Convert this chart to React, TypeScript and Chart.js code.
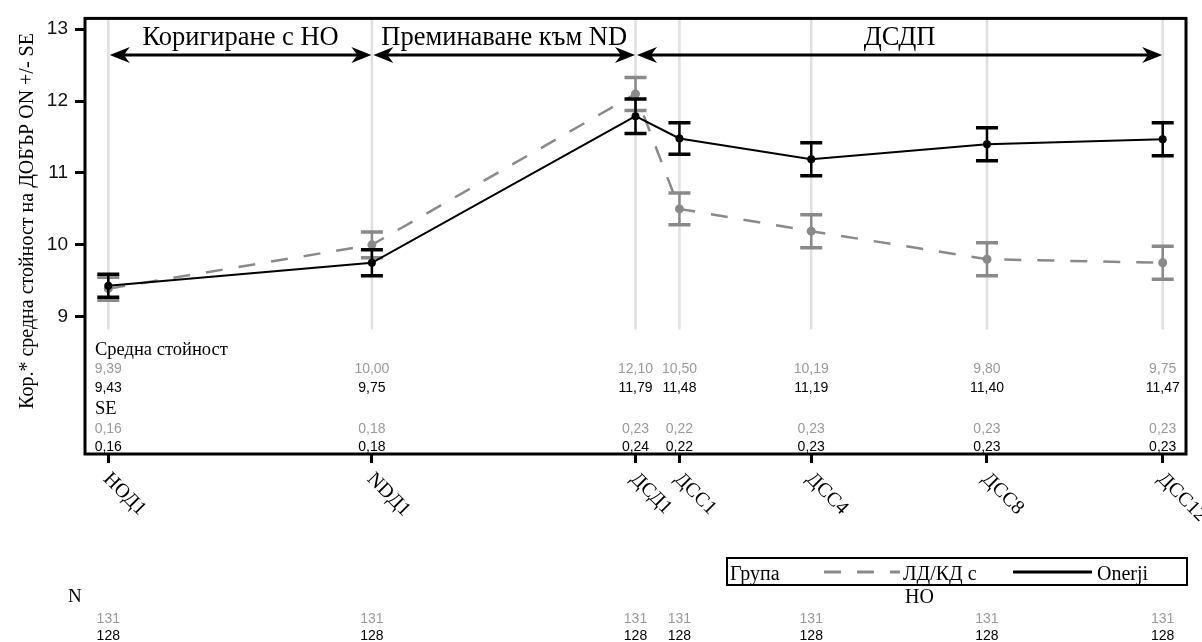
import React, { useEffect, useRef } from 'react';
import { Chart, registerables } from 'chart.js';

Chart.register(...registerables);

const categories = ['НОД1', 'NDД1', 'ДСД1', 'ДСС1', 'ДСС4', 'ДСС8', 'ДСС12'];
const xPositions = [0, 6, 12, 13, 16, 20, 24];
const meanHO = [9.39, 10.0, 12.1, 10.5, 10.19, 9.8, 9.75];
const meanOnerji = [9.43, 9.75, 11.79, 11.48, 11.19, 11.4, 11.47];
const seHO = [0.16, 0.18, 0.23, 0.22, 0.23, 0.23, 0.23];
const seOnerji = [0.16, 0.18, 0.24, 0.22, 0.23, 0.23, 0.23];
const nHO = [131, 131, 131, 131, 131, 131, 131];
const nOnerji = [128, 128, 128, 128, 128, 128, 128];
const yTicks = [9, 10, 11, 12, 13];
const phaseLabels = ['Коригиране с НО', 'Преминаване към ND', 'ДСДП'];
const phaseFrom = [0, 6, 12];
const phaseTo = [6, 12, 24];

const GRAY = '#8a8a8a';
const GRAY_TEXT = '#9a9a9a';
const SERIF = '"Liberation Serif", "Times New Roman", serif';
const SANS = '"Liberation Sans", Arial, sans-serif';

const fmt = (v: number) => v.toFixed(2).replace('.', ',');

function arrowHead(ctx: CanvasRenderingContext2D, x: number, y: number, dir: number) {
  ctx.beginPath();
  ctx.moveTo(x, y);
  ctx.lineTo(x + dir * 20, y - 8);
  ctx.lineTo(x + dir * 14, y);
  ctx.lineTo(x + dir * 20, y + 8);
  ctx.closePath();
  ctx.fill();
}

const customPlugin = {
  id: 'custom',
  beforeDatasetsDraw(chart: any) {
    const { ctx, chartArea, scales } = chart;
    const x = scales.x;
    const y = scales.y;
    ctx.save();
    ctx.strokeStyle = '#e0e0e0';
    ctx.lineWidth = 2.5;
    const bottom = y.getPixelForValue(8.82);
    xPositions.forEach((v) => {
      const xp = x.getPixelForValue(v);
      ctx.beginPath();
      ctx.moveTo(xp, chartArea.top);
      ctx.lineTo(xp, bottom);
      ctx.stroke();
    });
    ctx.restore();
  },
  afterDatasetDraw(chart: any, args: any) {
    const { ctx, scales } = chart;
    const x = scales.x;
    const y = scales.y;
    const isHO = args.index === 1;
    const means = isHO ? meanHO : meanOnerji;
    const ses = isHO ? seHO : seOnerji;
    ctx.save();
    ctx.strokeStyle = isHO ? GRAY : '#000';
    xPositions.forEach((v, i) => {
      const xp = x.getPixelForValue(v);
      const yt = y.getPixelForValue(means[i] + ses[i]);
      const yb = y.getPixelForValue(means[i] - ses[i]);
      ctx.lineWidth = 2.5;
      ctx.beginPath();
      ctx.moveTo(xp, yt);
      ctx.lineTo(xp, yb);
      ctx.stroke();
      ctx.lineWidth = 3.5;
      ctx.beginPath();
      ctx.moveTo(xp - 11, yt);
      ctx.lineTo(xp + 11, yt);
      ctx.moveTo(xp - 11, yb);
      ctx.lineTo(xp + 11, yb);
      ctx.stroke();
    });
    ctx.restore();
  },
  afterDraw(chart: any) {
    const { ctx, chartArea, scales } = chart;
    const x = scales.x;
    ctx.save();
    // frame
    ctx.strokeStyle = '#000';
    ctx.lineWidth = 3;
    ctx.strokeRect(chartArea.left, chartArea.top, chartArea.right - chartArea.left, chartArea.bottom - chartArea.top);

    // phase arrows
    ctx.fillStyle = '#000';
    ctx.lineWidth = 3;
    const ay = 55;
    phaseLabels.forEach((lab, i) => {
      const x1 = x.getPixelForValue(phaseFrom[i]) + 1.5;
      const x2 = x.getPixelForValue(phaseTo[i]) - 0.5;
      ctx.beginPath();
      ctx.moveTo(x1 + 10, ay);
      ctx.lineTo(x2 - 10, ay);
      ctx.stroke();
      arrowHead(ctx, x1, ay, 1);
      arrowHead(ctx, x2, ay, -1);
      ctx.font = `26.5px ${SERIF}`;
      ctx.textAlign = 'center';
      ctx.textBaseline = 'alphabetic';
      ctx.fillText(lab, (x1 + x2) / 2, 45);
    });

    // table in plot
    ctx.textAlign = 'left';
    ctx.textBaseline = 'alphabetic';
    ctx.font = `18.5px ${SERIF}`;
    ctx.fillStyle = '#000';
    ctx.fillText('Средна стойност', 95, 355);
    ctx.fillText('SE', 95, 414);
    ctx.font = `14px ${SANS}`;
    ctx.textAlign = 'center';
    xPositions.forEach((v, i) => {
      const xp = x.getPixelForValue(v);
      ctx.fillStyle = GRAY_TEXT;
      ctx.fillText(fmt(meanHO[i]), xp, 373);
      ctx.fillText(fmt(seHO[i]), xp, 433);
      ctx.fillText(String(nHO[i]), xp, 623);
      ctx.fillStyle = '#000';
      ctx.fillText(fmt(meanOnerji[i]), xp, 392);
      ctx.fillText(fmt(seOnerji[i]), xp, 451);
      ctx.fillText(String(nOnerji[i]), xp, 640);
    });

    // x labels rotated
    ctx.font = `20px ${SERIF}`;
    ctx.fillStyle = '#000';
    ctx.textAlign = 'left';
    ctx.textBaseline = 'middle';
    categories.forEach((c, i) => {
      const xp = x.getPixelForValue(xPositions[i]);
      ctx.save();
      ctx.translate(xp - 2, 476);
      ctx.rotate(Math.PI / 4);
      ctx.fillText(c, 0, 0);
      ctx.restore();
    });

    // y title
    ctx.save();
    ctx.translate(33, 221);
    ctx.rotate(-Math.PI / 2);
    ctx.font = `20px ${SERIF}`;
    ctx.textAlign = 'center';
    ctx.textBaseline = 'alphabetic';
    ctx.fillText('Кор.* средна стойност на ДОБЪР ON +/- SE', 0, 0);
    ctx.restore();

    // N label
    ctx.font = `19px ${SERIF}`;
    ctx.textAlign = 'left';
    ctx.textBaseline = 'alphabetic';
    ctx.fillText('N', 68, 602);

    // legend
    ctx.lineWidth = 2;
    ctx.strokeStyle = '#000';
    ctx.strokeRect(727, 558, 460, 27);
    ctx.font = `20px ${SERIF}`;
    ctx.fillText('Група', 730, 580);
    ctx.fillText('ЛД/КД с', 903, 580);
    ctx.fillText('НО', 905, 603);
    ctx.fillText('Onerji', 1097, 580);
    ctx.lineWidth = 3;
    ctx.strokeStyle = GRAY;
    ctx.setLineDash([17, 16]);
    ctx.beginPath();
    ctx.moveTo(824, 572);
    ctx.lineTo(900, 572);
    ctx.stroke();
    ctx.setLineDash([]);
    ctx.strokeStyle = '#000';
    ctx.beginPath();
    ctx.moveTo(1013, 572);
    ctx.lineTo(1092, 572);
    ctx.stroke();
    ctx.restore();
  },
};

export default function App() {
  const ref = useRef<HTMLCanvasElement>(null);
  useEffect(() => {
    document.body.style.margin = '0';
    const canvas = ref.current!;
    const chart = new Chart(canvas, {
      type: 'line',
      data: {
        datasets: [
          {
            label: 'Onerji',
            data: xPositions.map((v, i) => ({ x: v, y: meanOnerji[i] })),
            borderColor: '#000',
            backgroundColor: '#000',
            borderWidth: 2,
            pointRadius: 4,
            pointBorderWidth: 0,
            pointBackgroundColor: '#000',
            order: 1,
          },
          {
            label: 'ЛД/КД с НО',
            data: xPositions.map((v, i) => ({ x: v, y: meanHO[i] })),
            borderColor: GRAY,
            backgroundColor: GRAY,
            borderWidth: 2.5,
            borderDash: [17, 16],
            pointRadius: 4.5,
            pointBorderWidth: 0,
            pointBackgroundColor: GRAY,
            order: 2,
          },
        ],
      },
      options: {
        responsive: false,
        animation: false,
        layout: { padding: { top: 13, right: 16, left: 0, bottom: 0 } },
        plugins: { legend: { display: false }, tooltip: { enabled: false } },
        scales: {
          x: {
            type: 'linear',
            min: -0.53,
            max: 24.53,
            afterBuildTicks: (s: any) => {
              s.ticks = xPositions.map((v) => ({ value: v }));
            },
            afterFit: (s: any) => {
              s.height = 188;
            },
            grid: { display: true, drawOnChartArea: false, drawTicks: true, tickLength: 9, tickWidth: 3, tickColor: '#000' },
            border: { display: false },
            ticks: { callback: () => '', maxRotation: 0, autoSkip: false },
          },
          y: {
            type: 'linear',
            min: 7.089,
            max: 13.151,
            afterBuildTicks: (s: any) => {
              s.ticks = yTicks.map((v) => ({ value: v }));
            },
            afterFit: (s: any) => {
              s.width = 85;
            },
            grid: { display: true, drawOnChartArea: false, drawTicks: true, tickLength: 10, tickWidth: 3, tickColor: '#000' },
            border: { display: false },
            ticks: { padding: 7, color: '#111', font: { family: SANS, size: 19 }, callback: (v: any) => String(v) },
          },
        },
      } as any,
      plugins: [customPlugin],
    });
    return () => chart.destroy();
  }, []);
  return <canvas ref={ref} width={1202} height={642} style={{ display: 'block' }} />;
}
